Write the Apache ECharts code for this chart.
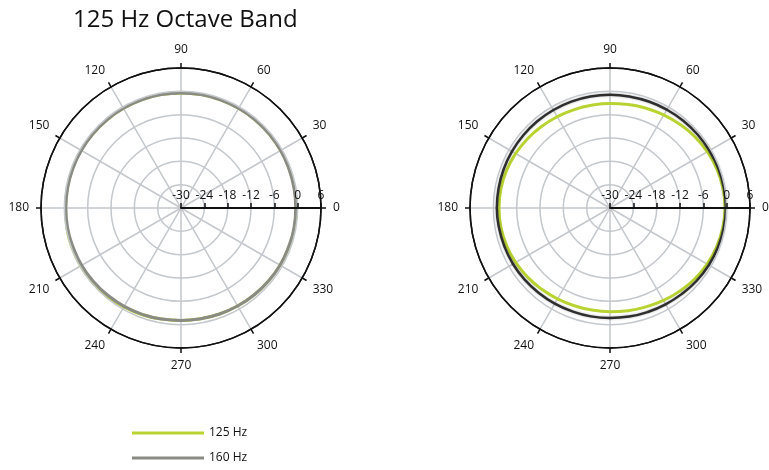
<!DOCTYPE html>
<html>
<head>
<meta charset="utf-8">
<script src="https://cdn.jsdelivr.net/npm/echarts@6/dist/echarts.min.js"></script>
<style>html,body{margin:0;padding:0;background:#fff}#c{width:769px;height:470px}</style>
</head>
<body>
<div id="c"></div>
<script>
const angles = [0,10,20,30,40,50,60,70,80,90,100,110,120,130,140,150,160,170,180,190,200,210,220,230,240,250,260,270,280,290,300,310,320,330,340,350,360];
const angleTicks = [0,30,60,90,120,150,180,210,240,270,300,330];
const radiusTicks = [-30,-24,-18,-12,-6,0,6];
const seriesNames = ['125 Hz','160 Hz'];
// Left plot
const left125 = [-0.4,-0.4,-0.4,-0.4,-0.4,-0.4,-0.4,-0.4,-0.4,-0.4,-0.4,-0.4,-0.4,-0.4,-0.4,-0.3,-0.3,-0.3,-0.3,-0.2,-0.2,-0.2,-0.3,-0.4,-0.6,-0.8,-1.0,-1.1,-1.1,-1.0,-0.9,-0.8,-0.7,-0.6,-0.5,-0.4,-0.4];
const left160 = [-0.5,-0.5,-0.5,-0.4,-0.4,-0.4,-0.4,-0.4,-0.4,-0.4,-0.4,-0.4,-0.4,-0.4,-0.4,-0.4,-0.4,-0.4,-0.4,-0.4,-0.5,-0.5,-0.6,-0.7,-0.8,-0.9,-1.0,-1.1,-1.1,-1.0,-0.9,-0.8,-0.7,-0.6,-0.6,-0.5,-0.5];
// Right plot
const right125 = [-0.43,-0.51,-0.74,-1.09,-1.51,-1.96,-2.37,-2.72,-2.98,-3.13,-3.16,-3.07,-2.89,-2.62,-2.30,-1.99,-1.71,-1.52,-1.46,-1.52,-1.71,-2.0,-2.35,-2.7,-3.0,-3.25,-3.35,-3.35,-3.2,-2.95,-2.55,-2.1,-1.6,-1.15,-0.8,-0.55,-0.43];
const right160 = [-0.2,-0.25,-0.35,-0.5,-0.6,-0.7,-0.8,-0.85,-0.9,-0.9,-0.9,-0.9,-0.9,-0.9,-0.9,-0.9,-0.9,-0.9,-0.9,-1.0,-1.1,-1.2,-1.35,-1.5,-1.6,-1.7,-1.7,-1.7,-1.65,-1.55,-1.4,-1.2,-0.9,-0.65,-0.45,-0.3,-0.2];

const GREEN = '#b9d432', GREY = '#8a8b84', DARK = '#2e2e2e';
const FONT = 'Open Sans';
const RING = '#c4c8cc';
const pair = (vals) => vals.map((v, i) => [v, angles[i]]);

function angleAxis(idx) {
  return {
    polarIndex: idx, type: 'value', min: 0, max: 360, interval: 30,
    startAngle: 0, clockwise: false,
    axisLine: { lineStyle: { color: '#111', width: 1.5 } },
    axisTick: { show: true, length: 5, lineStyle: { color: '#111', width: 1.5 } },
    axisLabel: { margin: 12, color: '#111', fontSize: 12, fontFamily: FONT,
      formatter: v => (angleTicks.indexOf(v) >= 0 ? String(v) : '') },
    splitLine: { show: true, lineStyle: { color: RING, width: 1.5 } }
  };
}
function radiusAxis(idx) {
  return {
    polarIndex: idx, type: 'value', min: radiusTicks[0], max: radiusTicks[radiusTicks.length-1], interval: 6,
    axisLine: { show: true, lineStyle: { color: '#111', width: 2 } },
    axisTick: { show: true, inside: true, length: 5, lineStyle: { color: '#111', width: 1.5 } },
    axisLabel: { show: true, color: '#111', fontSize: 12, fontFamily: FONT, margin: 6 },
    splitLine: { show: true, lineStyle: { color: [RING, RING, RING, RING, RING, RING, '#111'], width: 1.5 } },
    z: 5
  };
}

const chart = echarts.init(document.getElementById('c'));
chart.setOption({
  animation: false,
  title: { text: '125 Hz Octave Band', left: 68, top: 3,
    textStyle: { fontFamily: FONT, fontSize: 24, fontWeight: 'normal', color: '#111' } },
  legend: {
    data: seriesNames, orient: 'vertical', left: 127, top: 422, height: 60,
    icon: 'rect', itemWidth: 72, itemHeight: 3, itemGap: 13,
    textStyle: { fontFamily: FONT, fontSize: 12, color: '#111' }
  },
  polar: [
    { center: [181, 208], radius: 140 },
    { center: [610, 208], radius: 140 }
  ],
  angleAxis: [angleAxis(0), angleAxis(1)],
  radiusAxis: [radiusAxis(0), radiusAxis(1)],
  series: [
    { name: '125 Hz', type: 'line', coordinateSystem: 'polar', polarIndex: 0, showSymbol: false, smooth: true,
      lineStyle: { color: GREEN, width: 3 }, itemStyle: { color: GREEN }, data: pair(left125), z: 3 },
    { name: '160 Hz', type: 'line', coordinateSystem: 'polar', polarIndex: 0, showSymbol: false, smooth: true,
      lineStyle: { color: GREY, width: 3 }, itemStyle: { color: GREY }, data: pair(left160), z: 4 },
    { name: '125 Hz', type: 'line', coordinateSystem: 'polar', polarIndex: 1, showSymbol: false, smooth: true,
      lineStyle: { color: GREEN, width: 3 }, itemStyle: { color: GREEN }, data: pair(right125), z: 3 },
    { name: '160 Hz', type: 'line', coordinateSystem: 'polar', polarIndex: 1, showSymbol: false, smooth: true,
      lineStyle: { color: DARK, width: 2.5, shadowColor: 'rgba(0,0,0,0.3)', shadowBlur: 2.5 },
      itemStyle: { color: GREY }, data: pair(right160), z: 4 }
  ]
});
</script>
</body>
</html>
